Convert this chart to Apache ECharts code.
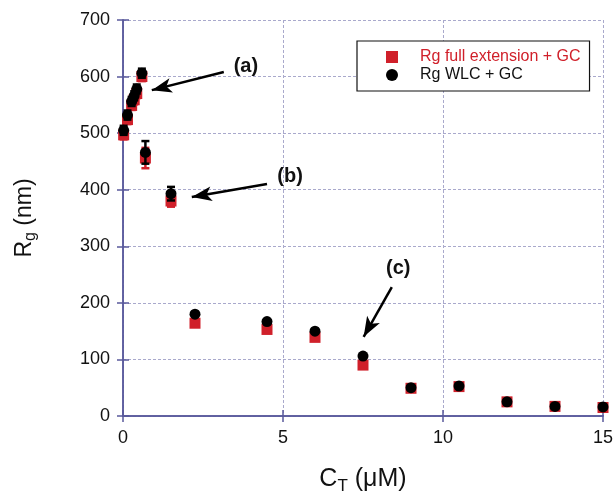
<!DOCTYPE html>
<html>
<head>
<meta charset="utf-8">
<script src="https://cdn.jsdelivr.net/npm/echarts@6/dist/echarts.min.js"></script>
<style>
  html, body { margin: 0; padding: 0; background: #fff; }
  #chart { width: 614px; height: 496px; }
</style>
</head>
<body>
<div id="chart"></div>
<script>
// Total concentration C_T (µM)
const concentration = [0.02, 0.14, 0.27, 0.35, 0.43, 0.59, 0.7, 1.5, 2.25, 4.5, 6, 7.5, 9, 10.5, 12, 13.5, 15];
// Radius of gyration (nm), full-extension model + GC
const rgFullExt = [497, 524, 549, 559, 570, 600, 456, 380, 164, 153, 139, 90, 49, 52, 25, 17, 15];
const rgFullExtErr = [8, 8, 8, 8, 8, 8, 18, 10, 0, 0, 0, 0, 0, 0, 0, 0, 0];
// Radius of gyration (nm), worm-like chain + GC
const rgWlc = [505, 532, 556, 566, 578, 606, 466, 393, 180, 167, 150, 106, 50, 53, 25, 17, 16];
const rgWlcErr = [8, 8, 8, 8, 8, 8, 20, 12, 0, 0, 0, 0, 0, 0, 0, 0, 0];

const xTicks = [0, 5, 10, 15];
const yTicks = [0, 100, 200, 300, 400, 500, 600, 700];

// Annotation arrows: [start, end] in data units, and their labels
const arrowLines = [
  [[3.15, 608], [0.9, 576]],
  [[4.5, 410], [2.15, 387]],
  [[8.4, 228], [7.52, 140]]
];
const arrowLabels = [
  { text: '(a)', at: [3.84, 617] },
  { text: '(b)', at: [5.22, 423] },
  { text: '(c)', at: [8.6, 260] }
];

const RED = '#d0202a';
const AXIS = '#5a5a9c';
const GRID = '#a9a9cc';
const FONT = 'Liberation Sans, Arial, sans-serif';

const pairs = (ys) => concentration.map((x, i) => [x, ys[i]]);
const errData = (ys, es) => concentration.map((x, i) => [x, ys[i], es[i]]);

function errorBar(color) {
  return function (params, api) {
    const e = api.value(2);
    if (!e) return null;
    const x = api.value(0), y = api.value(1);
    const hi = api.coord([x, y + e]);
    const lo = api.coord([x, y - e]);
    const w = 4;
    const style = { stroke: color, lineWidth: 2.5 };
    return {
      type: 'group',
      children: [
        { type: 'line', shape: { x1: hi[0], y1: hi[1], x2: lo[0], y2: lo[1] }, style },
        { type: 'line', shape: { x1: hi[0] - w, y1: hi[1], x2: hi[0] + w, y2: hi[1] }, style },
        { type: 'line', shape: { x1: lo[0] - w, y1: lo[1], x2: lo[0] + w, y2: lo[1] }, style }
      ]
    };
  };
}

const chart = echarts.init(document.getElementById('chart'), null, { renderer: 'canvas' });

const axisCommon = {
  type: 'value',
  axisLine: { show: true, lineStyle: { color: AXIS, width: 1.5 } },
  axisTick: { show: true, inside: true, length: 6, lineStyle: { color: AXIS, width: 1.5 } }
};

chart.setOption({
  animation: false,
  textStyle: { fontFamily: FONT },
  grid: { left: 123, right: 11, top: 20, bottom: 80, containLabel: false, outerBoundsMode: 'none' },
  legend: {
    left: 357, top: 41,
    orient: 'vertical',
    padding: [7, 9, 7, 29],
    itemGap: 0,
    itemWidth: 12, itemHeight: 12,
    borderColor: '#111', borderWidth: 1.2,
    backgroundColor: '#fff',
    textStyle: { fontSize: 16, lineHeight: 18, padding: [0, 0, 0, 17], fontFamily: FONT },
    data: [
      { name: 'Rg full extension + GC', icon: 'rect', textStyle: { color: RED } },
      { name: 'Rg WLC + GC', icon: 'circle', textStyle: { color: '#111' } }
    ]
  },
  xAxis: [
    Object.assign({}, axisCommon, {
      min: 0, max: 15, interval: 5,
      name: '{a|C}{s|T}{a| (μM)}',
      nameLocation: 'middle', nameGap: 48,
      nameTextStyle: {
        rich: {
          a: { fontSize: 25, color: '#111', fontFamily: FONT },
          s: { fontSize: 17, color: '#111', fontFamily: FONT, padding: [14, 0, 0, 0] }
        }
      },
      axisLabel: { fontSize: 18, color: '#111', margin: 13, formatter: (v) => xTicks.includes(v) ? String(v) : '' },
      splitLine: { show: true, lineStyle: { color: GRID, type: [3, 2], width: 1 } }
    }),
    Object.assign({}, axisCommon, {
      position: 'top', min: 0, max: 15, interval: 5,
      axisLabel: { show: false }, splitLine: { show: false }
    })
  ],
  yAxis: [
    Object.assign({}, axisCommon, {
      min: 0, max: 700, interval: 100,
      name: '{a|R}{s|g}{a| (nm)}',
      nameLocation: 'middle', nameGap: 84,
      nameTextStyle: {
        rich: {
          a: { fontSize: 23, color: '#111', fontFamily: FONT },
          s: { fontSize: 16, color: '#111', fontFamily: FONT, padding: [13, 0, 0, 0] }
        }
      },
      axisLabel: { fontSize: 18, color: '#111', margin: 13, formatter: (v) => yTicks.includes(v) ? String(v) : '' },
      splitLine: { show: true, lineStyle: { color: GRID, type: [3, 2], width: 1 } }
    }),
    Object.assign({}, axisCommon, {
      position: 'right', min: 0, max: 700, interval: 100,
      axisLabel: { show: false }, splitLine: { show: false }
    })
  ],
  series: [
    {
      type: 'custom', name: 'err-full', silent: true, z: 2,
      renderItem: errorBar(RED), data: errData(rgFullExt, rgFullExtErr)
    },
    {
      type: 'scatter', name: 'Rg full extension + GC', z: 3,
      symbol: 'rect', symbolSize: 11,
      itemStyle: { color: RED, opacity: 1 },
      data: pairs(rgFullExt)
    },
    {
      type: 'custom', name: 'err-wlc', silent: true, z: 4,
      renderItem: errorBar('#000'), data: errData(rgWlc, rgWlcErr)
    },
    {
      type: 'scatter', name: 'Rg WLC + GC', z: 5,
      symbol: 'circle', symbolSize: 11,
      itemStyle: { color: '#000', opacity: 1 },
      data: pairs(rgWlc),
      markLine: {
        silent: true,
        symbol: ['none', 'arrow'],
        symbolSize: [11, 20],
        lineStyle: { color: '#000', width: 2.5, type: 'solid' },
        label: { show: false },
        data: arrowLines.map(([s, e]) => [{ coord: s }, { coord: e }])
      },
      markPoint: {
        silent: true,
        symbol: 'circle', symbolSize: 1,
        itemStyle: { color: 'rgba(0,0,0,0)' },
        label: { show: true, position: 'inside', fontSize: 20, fontWeight: 'bold', color: '#111', fontFamily: FONT,
                 formatter: (p) => p.name },
        data: arrowLabels.map((a) => ({ name: a.text, coord: a.at }))
      }
    }
  ]
});
</script>
</body>
</html>
